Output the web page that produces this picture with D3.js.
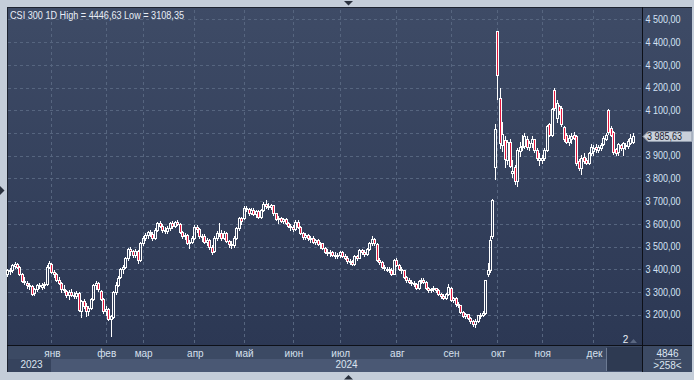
<!DOCTYPE html>
<html><head><meta charset="utf-8">
<script src="https://cdn.jsdelivr.net/npm/d3@7"></script>
<style>
html,body{margin:0;padding:0;background:#c4cdd9;overflow:hidden;}
svg{display:block;}
text{font-family:"Liberation Sans",Arial,sans-serif;}
</style></head><body>
<svg id="c" width="694" height="380"></svg>
<script>
// ---- data (Dec 6 2023 .. Dec 24 2024, daily bars) ----
const opens = [
3380,3392,3398,3415,3425,3410,3380,3350,3342,3330,3325,3295,3312,3330,3322,3333,3335,3412,
3425,3388,3378,3355,3340,3312,3305,3285,3300,3286,3283,3297,3215,3262,3240,3215,3230,3270,3330,3340,3305,3268,
3215,3225,3180,3190,3300,3332,3368,3400,3410,3450,3490,3480,3465,3480,3440,
3515,3538,3552,3565,3555,3540,3575,3603,3590,3572,3568,3582,3605,3590,3608,3600,3565,3545,3550,3515,3522,
3537,3588,3577,3545,3548,3522,3530,3500,3480,3540,3562,3560,3540,3560,3525,3512,3505,3540,3580,3625,
3625,3672,3665,3648,3660,3645,3655,3630,3660,3688,3680,3675,3682,3648,3620,3628,3612,3620,3605,3590,
3585,3578,3610,3585,3560,3542,3550,3536,3540,3520,3530,3510,3515,3494,3478,3470,3478,3465,3458,
3462,3475,3460,3452,3438,3432,3425,3458,3450,3485,3475,3468,3490,3515,3535,3510,3442,3432,3412,3398,3402,3398,3380,
3442,3420,3402,3395,3365,3352,3345,3340,3335,3320,3348,3355,3345,3318,3308,3312,3318,3310,3290,3282,3275,3290,
3318,3265,3272,3248,3242,3212,3196,3202,3187,3172,3159,3172,3197,3201,3210,3380,3395,3545,3850,
4446.63,4155,3945,3970,3880,3960,3822,3850,3790,3920,3937,3943,3975,3940,3957,3972,3925,3880,
3880,3890,3927,4040,3992,4190,4065,4120,4112,4025,3990,3960,3975,3990,3985,3878,3845,3895,3880,3870,3912,
3920,3940,3925,3935,3950,3975,4100,4020,4005,3930,3915,3945,3935,3948,3942,3958,3960];
const highs = [
3400,3405,3425,3432,3430,3415,3385,3365,3350,3340,3332,3318,3335,3340,3338,3345,3418,3435,
3430,3395,3385,3365,3345,3330,3310,3310,3312,3300,3305,3300,3265,3270,3250,3240,3275,3335,3350,3345,3310,3275,
3240,3230,3200,3305,3345,3370,3405,3420,3455,3495,3500,3485,3490,3485,3520,
3545,3560,3570,3575,3565,3580,3610,3612,3598,3585,3590,3610,3612,3612,3615,3602,3570,3560,3555,3530,3545,
3595,3595,3582,3555,3555,3540,3535,3505,3545,3568,3605,3575,3568,3565,3530,3525,3545,3585,3630,3632,
3680,3680,3672,3670,3668,3660,3662,3665,3695,3705,3690,3688,3685,3650,3635,3632,3628,3625,3610,3600,
3595,3615,3618,3590,3565,3558,3556,3548,3545,3535,3535,3522,3518,3500,3490,3485,3482,3475,3472,
3480,3480,3468,3458,3445,3440,3462,3465,3488,3490,3485,3495,3520,3545,3540,3515,3450,3435,3420,3410,3410,3405,3445,
3448,3425,3410,3398,3372,3360,3352,3350,3340,3352,3362,3362,3348,3322,3320,3325,3320,3312,3298,3290,3295,3335,
3322,3280,3278,3258,3245,3218,3210,3205,3192,3178,3180,3200,3210,3215,3355,3430,3545,3710,4040,
4446.63,4200,4050,3985,3970,3975,3880,3860,3935,3960,3990,3998,3985,3965,3985,3975,3932,3910,
3905,3935,4035,4045,4110,4200,4145,4125,4118,4030,3998,3990,4000,4005,3990,3885,3905,3910,3890,3918,3950,
3945,3950,3945,3955,3985,3998,4105,4030,4010,3935,3955,3950,3962,3955,3972,3995,4002];
const lows = [
3370,3380,3390,3405,3405,3375,3345,3335,3320,3315,3285,3288,3305,3318,3315,3320,3330,3405,
3385,3368,3350,3335,3300,3300,3280,3270,3282,3272,3275,3215,3190,3230,3195,3200,3225,3265,3315,3305,3265,3210,
3200,3175,3108.35,3185,3290,3325,3360,3385,3405,3440,3465,3455,3455,3430,3435,
3505,3530,3540,3545,3530,3535,3570,3585,3565,3558,3560,3575,3582,3585,3595,3560,3540,3535,3510,3495,3515,
3535,3565,3540,3525,3515,3505,3490,3468,3478,3530,3545,3530,3535,3520,3500,3495,3500,3535,3575,3600,
3620,3655,3640,3642,3640,3632,3625,3625,3655,3672,3665,3665,3640,3615,3605,3608,3602,3598,3585,3575,
3570,3575,3580,3555,3535,3535,3530,3520,3515,3512,3505,3495,3488,3470,3462,3460,3458,3450,3450,
3455,3455,3445,3430,3425,3418,3420,3442,3448,3468,3460,3462,3485,3508,3505,3438,3425,3405,3395,3392,3388,3375,3378,
3415,3395,3385,3360,3345,3338,3330,3325,3315,3315,3338,3340,3312,3300,3302,3305,3300,3285,3275,3268,3270,3285,
3262,3258,3240,3235,3208,3190,3188,3180,3165,3150,3145,3168,3185,3195,3205,3370,3390,3540,3797,
4150,3935,3920,3850,3865,3850,3805,3775,3765,3900,3925,3935,3930,3925,3940,3918,3880,3860,
3868,3880,3920,3985,3985,4100,4050,4085,4030,3965,3955,3945,3955,3975,3860,3838,3820,3870,3862,3862,3905,
3905,3918,3915,3925,3945,3968,3995,3985,3908,3905,3905,3925,3905,3930,3935,3950,3955];
const closes = [
3395,3398,3418,3425,3410,3380,3350,3345,3330,3325,3292,3312,3330,3325,3333,3335,3412,3428,
3388,3380,3355,3342,3312,3308,3285,3300,3286,3283,3297,3219,3262,3240,3218,3230,3270,3330,3340,3312,3270,3215,
3225,3180,3195,3300,3332,3364,3400,3410,3450,3490,3480,3465,3480,3440,3515,
3538,3552,3565,3558,3540,3575,3603,3590,3572,3568,3582,3605,3590,3608,3600,3565,3545,3550,3515,3522,3537,
3588,3577,3545,3548,3522,3530,3500,3475,3540,3562,3560,3540,3560,3525,3512,3505,3540,3580,3625,3612,
3672,3665,3648,3660,3645,3655,3630,3660,3688,3680,3675,3682,3648,3620,3628,3612,3620,3605,3590,3585,
3578,3610,3585,3560,3542,3550,3536,3540,3520,3530,3510,3515,3494,3478,3470,3478,3465,3458,3462,
3475,3460,3452,3438,3432,3425,3458,3450,3485,3475,3468,3490,3515,3535,3515,3442,3432,3412,3405,3402,3398,3380,3442,
3420,3402,3395,3365,3352,3345,3342,3335,3320,3348,3355,3345,3318,3308,3312,3318,3310,3290,3282,3275,3290,3322,
3265,3272,3248,3242,3212,3196,3202,3187,3172,3159,3172,3197,3201,3206,3353,3395,3531,3703,4017,
4256,3956,3997,3887,3961,3855,3832,3788,3925,3937,3943,3985,3940,3957,3972,3925,3892,3891,
3890,3927,4030,3992,4105,4110,4130,4095,4040,3975,3962,3978,3985,3980,3868,3845,3890,3878,3870,3912,3940,
3935,3928,3940,3948,3978,3990,4005,3992,3915,3912,3950,3932,3955,3945,3965,3978,3985.63];

const monthLabels = ["янв","фев","мар","апр","май","июн","июл","авг","сен","окт","ноя","дек"];
const monthStarts = [18,40,55,76,96,116,135,158,180,199,217,238];
const yearLabels = ["2023","2024"];
const yearStarts = [0,18];
const priceTicks = [3200,3300,3400,3500,3600,3700,3800,3900,4000,4100,4200,4300,4400,4500];
const totalSlots = 258;
const titleText = "CSI 300 1D High = 4446,63 Low = 3108,35";
const barCountText = "4846";
const visibleText = ">258<";

// ---- layout ----
const svg = d3.select("#c");
const L = 7, R = 642, T = 8, B = 345, PR = 692, PB = 372;
const FONT = "Liberation Sans, Arial, sans-serif";
const fr = d3.formatLocale({decimal:",", thousands:" ", grouping:[3], currency:["",""]}).format(",.2f");

const defs = svg.append("defs");
const grad = defs.append("linearGradient").attr("id","bg").attr("x1",0).attr("y1",0).attr("x2",0).attr("y2",1);
grad.append("stop").attr("offset","0%").attr("stop-color","#3e4b66");
grad.append("stop").attr("offset","100%").attr("stop-color","#2c3854");

svg.append("rect").attr("x",0).attr("y",0).attr("width",694).attr("height",380).attr("fill","#c4cdd9");
svg.append("rect").attr("x",L).attr("y",T-1).attr("width",PR-L).attr("height",B-T+1).attr("fill","url(#bg)");
svg.append("line").attr("x1",L).attr("x2",PR).attr("y1",T-0.5).attr("y2",T-0.5).attr("stroke","#1d2330");
svg.append("line").attr("x1",L+0.5).attr("x2",L+0.5).attr("y1",T-1).attr("y2",PB).attr("stroke","#1d2330");

const xb = d3.scaleBand().domain(d3.range(totalSlots)).range([6.4, R]);
const xc = i => xb(i) + xb.bandwidth()/2;
const xlin = d3.scaleLinear().domain([0, totalSlots]).range([xc(0), R + xb.bandwidth()/2]);
const y = d3.scaleLinear().domain([3067, 4550]).range([B, T]);

// grid
const grid = svg.append("g").attr("stroke","#56657f").attr("stroke-dasharray","3,3").attr("shape-rendering","crispEdges");
priceTicks.forEach(v => {
  const yy = Math.round(y(v)) + 0.5;
  grid.append("line").attr("x1",L+1).attr("x2",R-1).attr("y1",yy).attr("y2",yy);
});
monthStarts.forEach(i => {
  const xx = Math.floor(xc(i)) + 0.5;
  grid.append("line").attr("x1",xx).attr("x2",xx).attr("y1",T+2).attr("y2",B);
});

// candles
const n = closes.length;
const cg = svg.append("g").attr("shape-rendering","crispEdges");
for (let i = 0; i < n; i++) {
  const o = opens[i], c = closes[i], h = highs[i], l = lows[i];
  const cx = Math.floor(xc(i));
  const top = Math.round(y(Math.max(o,c))), bot = Math.round(y(Math.min(o,c)));
  const yh = Math.round(y(h)), yl = Math.round(y(l));
  const up = c >= o;
  if (yh < top) cg.append("line").attr("x1",cx+0.5).attr("x2",cx+0.5).attr("y1",yh).attr("y2",top).attr("stroke","#fff");
  if (yl > bot) cg.append("line").attr("x1",cx+0.5).attr("x2",cx+0.5).attr("y1",bot+1).attr("y2",yl+1).attr("stroke","#fff");
  cg.append("rect").attr("x",cx-0.5).attr("y",top+0.5).attr("width",2).attr("height",Math.max(bot-top,1))
    .attr("fill", up ? "none" : "#e3173e").attr("stroke","#fff").attr("stroke-width",1);
}

// title
svg.append("text").attr("x",10).attr("y",18.5).attr("font-size",10).attr("fill","#e8eef7")
  .attr("textLength",174).attr("lengthAdjust","spacingAndGlyphs").text(titleText);

// last price position
const lp = closes[n-1];
const lpy = Math.round(y(lp)) + 0.5;

// price axis (hide tick labels that collide with last-price label)
const ya = svg.append("g").attr("transform",`translate(${R+0.5},0)`)
  .call(d3.axisRight(y).tickValues(priceTicks.filter(v => Math.abs(y(v) - lpy) > 10))
    .tickSize(0).tickSizeOuter(0).tickPadding(3).tickFormat(fr));
ya.select(".domain").remove();
ya.selectAll("text").attr("font-size",10).attr("fill","#d4e2f4").attr("font-family",FONT)
  .attr("textLength",35).attr("lengthAdjust","spacingAndGlyphs");

// bottom time bands
svg.append("rect").attr("x",L+1).attr("y",B).attr("width",PR-L-1).attr("height",14).attr("fill","#3c4a64");
svg.append("rect").attr("x",L+1).attr("y",B+14).attr("width",PR-L-1).attr("height",PB-B-14).attr("fill","#4a5874");
yearStarts.forEach((s, k) => {
  const x0 = k === 0 ? L+1 : Math.floor(xc(s));
  const x1 = k === 0 ? Math.floor(xc(yearStarts[1])) : R;
  if (k === 0) svg.append("rect").attr("x",x0).attr("y",B+14).attr("width",x1-x0).attr("height",PB-B-14).attr("fill","#36435d");
  svg.append("text").attr("x",(x0+x1)/2 + (k===0?2:0)).attr("y",368).attr("text-anchor","middle")
    .attr("font-size",10).attr("fill","#dbe4f0").text(yearLabels[k]);
});
// scroll box
svg.append("rect").attr("x",607).attr("y",B+2).attr("width",R-607).attr("height",PB-B-3).attr("fill","#2e3a52");
svg.append("line").attr("x1",606.5).attr("x2",606.5).attr("y1",B+3).attr("y2",PB-1).attr("stroke","#6c7a93");

// month axis
const xa = svg.append("g").attr("transform",`translate(0,${B})`)
  .call(d3.axisBottom(xlin).tickValues(monthStarts).tickSize(0).tickPadding(5).tickFormat((d,i)=>monthLabels[i]));
xa.select(".domain").remove();
xa.selectAll("text").attr("font-size",10).attr("fill","#d6e0ee").attr("font-family",FONT);

// axis lines
svg.append("line").attr("x1",L).attr("x2",PR).attr("y1",B+0.5).attr("y2",B+0.5).attr("stroke","#0d1018");
svg.append("line").attr("x1",R+0.5).attr("x2",R+0.5).attr("y1",T-1).attr("y2",PB).attr("stroke","#0d1018");

// right bottom box
svg.append("rect").attr("x",R+1).attr("y",B+1).attr("width",PR-R-1).attr("height",PB-B-1).attr("fill","#3c4a64");
svg.append("text").attr("x",667.5).attr("y",357).attr("text-anchor","middle").attr("font-size",10).attr("fill","#dbe4f0").text(barCountText);
svg.append("line").attr("x1",655).attr("x2",681).attr("y1",359.5).attr("y2",359.5).attr("stroke","#8a96ab");
svg.append("text").attr("x",667.5).attr("y",369).attr("text-anchor","middle").attr("font-size",10).attr("fill","#dbe4f0").text(visibleText);

// last price label
svg.append("path").attr("d",`M643,${lpy} L648,${lpy-5} L692,${lpy-5} L692,${lpy+5} L648,${lpy+5} Z`)
  .attr("fill","#c9d0da").attr("stroke","#8e99aa");
svg.append("text").attr("x",647).attr("y",lpy+3.5).attr("font-size",10).attr("fill","#1a2232")
  .attr("textLength",35).attr("lengthAdjust","spacingAndGlyphs").text(fr(lp));

// "2" marker
svg.append("text").attr("x",625.5).attr("y",343).attr("text-anchor","middle").attr("font-size",10).attr("fill","#e8eef7").text("2");
svg.append("path").attr("d","M630,343 L637,343 L633.5,339 Z").attr("fill","#5b6882");

// frame triangles
svg.append("path").attr("d","M344,1 L353,1 L348.5,5.5 Z").attr("fill","#2a313e");
svg.append("path").attr("d","M344,379.5 L353,379.5 L348.5,375 Z").attr("fill","#2a313e");
svg.append("path").attr("d","M0,186 L0,195 L4.5,190.5 Z").attr("fill","#2a313e");
</script>
</body></html>
